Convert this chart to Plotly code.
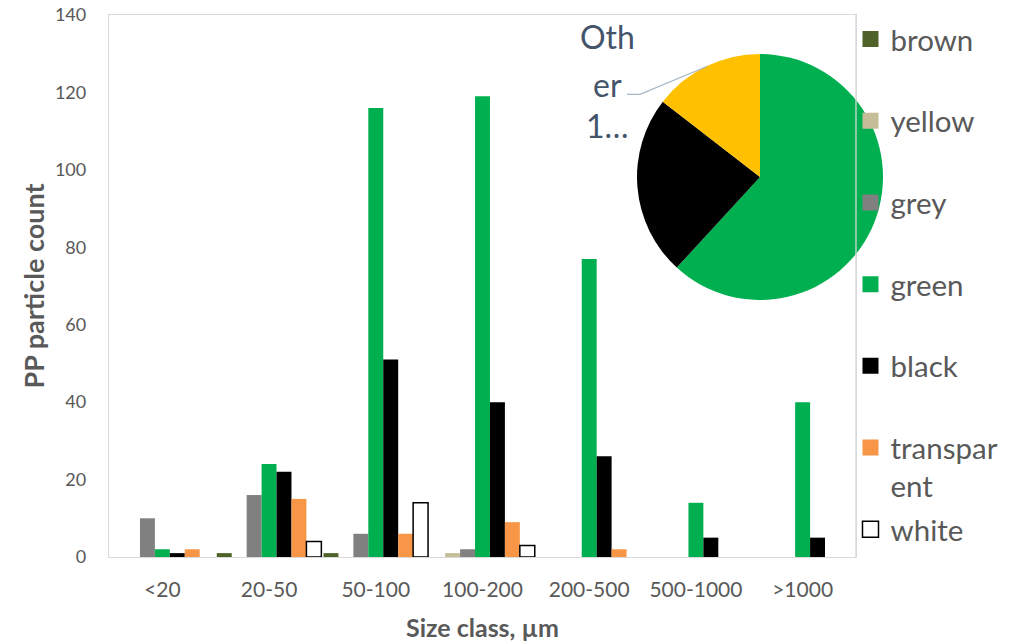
import plotly.graph_objects as go

# Particle counts per size class, split by particle colour
size_classes = ["<20", "20-50", "50-100", "100-200", "200-500", "500-1000", ">1000"]
brown = [0, 1, 1, 0, 0, 0, 0]
yellow = [0, 0, 0, 1, 0, 0, 0]
grey = [10, 16, 6, 2, 0, 0, 0]
green = [2, 24, 116, 119, 77, 14, 40]
black = [1, 22, 51, 40, 26, 5, 5]
transparent = [2, 15, 6, 9, 2, 0, 0]
white = [0, 4, 14, 3, 0, 0, 0]

series_names = ["brown", "yellow", "grey", "green", "black", "transpar<br>ent", "white"]
series_values = [brown, yellow, grey, green, black, transparent, white]
series_colors = ["#4F6228", "#C4BD97", "#808080", "#00B050", "#000000", "#F79646", "#FFFFFF"]

# Inset pie: share of the dominant colours vs everything else
pie_labels = ["green", "black", "Other"]
pie_colors = ["#00B050", "#000000", "#FFC000"]
other_total = sum(brown) + sum(yellow) + sum(grey) + sum(transparent) + sum(white)
pie_values = [sum(green), sum(black), other_total]

FONT = "Lato"
TXT = "#595959"

fig = go.Figure()

for i, (name, vals, col) in enumerate(zip(series_names, series_values, series_colors)):
    outlined = name == "white"
    line = dict(color="#000000" if outlined else col, width=1.5 if outlined else 0)
    # empty classes get no bar at all
    fig.add_trace(go.Bar(
        x=size_classes, y=[v if v else None for v in vals], name=name.replace("<br>", ""),
        marker=dict(color=col, line=line),
        legendgroup=f"g{i}", showlegend=False,
    ))
    # legend key: larger square swatch; every entry gets two text lines so
    # the keys stay evenly spaced
    if "<br>" in name or i == len(series_names) - 1:
        label = name
    else:
        label = name + "<br>\u00a0"
    fig.add_trace(go.Scatter(
        x=[None], y=[None], mode="markers", name=label,
        marker=dict(symbol="square", size=16, color=col,
                    line=dict(color=line["color"], width=1.5 if outlined else 0)),
        legendgroup=f"g{i}", hoverinfo="skip",
    ))

fig.add_trace(go.Pie(
    labels=pie_labels, values=pie_values,
    marker=dict(colors=pie_colors, line=dict(width=0)),
    sort=False, direction="clockwise", rotation=0,
    textinfo="none", hoverinfo="label+value+percent",
    showlegend=False,
    domain=dict(x=[0.5873, 0.8610], y=[0.5075, 0.9182]),
))

# Truncated outside label of the "Other" slice, with its leader line
label_font = dict(family=FONT, size=32, color="#44546A")
for txt, yy in [("Oth", 0.9466), ("er", 0.8673), ("1…", 0.7980)]:
    fig.add_annotation(x=0.555, y=yy, xref="paper", yref="paper", text=txt,
                       showarrow=False, font=label_font, xanchor="center", yanchor="middle")

fig.add_shape(type="path", xref="paper", yref="paper",
              path="M0.5762,0.8509 L0.5907,0.8509 L0.6649,0.8973",
              line=dict(color="#A6B6C8", width=1.3))

# right edge of the plot frame drawn over the pie
fig.add_shape(type="line", xref="x domain", yref="y domain", x0=1, x1=1, y0=0, y1=1,
              line=dict(color="#D9D9D9", width=1.3), layer="above")

fig.update_layout(
    width=1028, height=644,
    margin=dict(l=109, r=20, t=5, b=40, autoexpand=False),
    paper_bgcolor="white", plot_bgcolor="white",
    barmode="group", bargap=0.02, bargroupgap=0,
    font=dict(family=FONT, color=TXT),
    legend=dict(
        x=0.8248, y=0.986, xanchor="left", yanchor="top",
        font=dict(family=FONT, size=29.5, color=TXT),
        valign="top", tracegroupgap=2, bgcolor="rgba(0,0,0,0)",
        itemclick=False, itemdoubleclick=False,
    ),
    xaxis=dict(
        domain=[0, 0.8309], automargin=False,
        showline=True, linecolor="#D9D9D9", linewidth=1.3, mirror=True,
        showgrid=False, ticks="", ticklabelstandoff=14,
        tickfont=dict(family=FONT, size=21, color=TXT),
        title=dict(text="<b>Size class, µm</b>", standoff=19,
                   font=dict(family=FONT, size=25, color=TXT)),
    ),
    yaxis=dict(
        domain=[0.07846, 0.98331], automargin=False,
        range=[0, 140], tick0=0, dtick=20,
        showline=True, linecolor="#D9D9D9", linewidth=1.3, mirror=True,
        showgrid=False, zeroline=False, ticks="", ticklabelstandoff=18,
        tickfont=dict(family=FONT, size=18, color=TXT),
        title=dict(text="<b>PP particle count</b>", standoff=2,
                   font=dict(family=FONT, size=27, color=TXT)),
    ),
)

fig.write_html("out.html")
